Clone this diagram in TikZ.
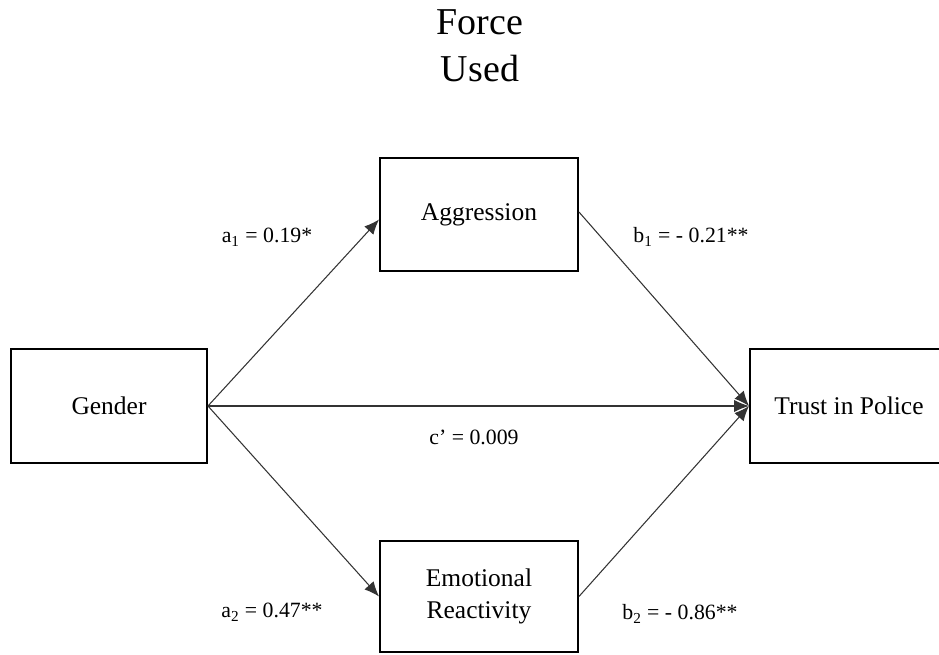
\documentclass[tikz,border=0pt]{standalone}
\usepackage{fontspec}
\setmainfont{Liberation Serif}
\usepackage{tikz}
\usetikzlibrary{arrows.meta}
\tikzset{>={Latex[length=8.5pt,width=7pt]}}
\tikzset{
	varbox/.style = {draw, line width = 1.1pt, minimum width = 3.96cm, minimum height = 2.26cm, align = center, font = \fontsize{14.5}{18.2}\selectfont},
	coef/.style = {anchor = base, font = \fontsize{12.4}{15}\selectfont},
	path/.style = {->, line width = 0.6pt, draw = black!80}
}

\begin{document}
\begin{tikzpicture}
\useasboundingbox (0, 0) rectangle (18.78, 13.1);

\node[align = center, font = \fontsize{21.6}{26.7}\selectfont] (title) at (9.6, 12.18) {Force\\Used};

\node[varbox, minimum width = 3.92cm, minimum height = 2.28cm] (gender) at (2.18, 4.98) {Gender};
\node[varbox, minimum height = 2.28cm] (trust) at (16.98, 4.98) {Trust in Police};
\node[varbox] (aggression) at (9.58, 8.81) {Aggression};
\node[varbox, minimum height = 2.22cm] (emotion) at (9.58, 1.17) {Emotional\\Reactivity};

\draw[path] (gender.east) -- ([yshift = -0.1cm]aggression.west);
\draw[path] (gender.east) -- (emotion.west);
\draw[path] (gender.east) -- (trust.west);
\draw[path] ([yshift = 0.05cm]aggression.east) -- (trust.west);
\draw[path] (emotion.east) -- (trust.west);

\node[coef] (a1) at (5.34, 8.24) {a\textsubscript{1} = 0.19*};
\node[coef] (b1) at (13.82, 8.24) {b\textsubscript{1} = - 0.21**};
\node[coef] (c) at (9.48, 4.2) {c' = 0.009};
\node[coef] (a2) at (5.44, 0.74) {a\textsubscript{2} = 0.47**};
\node[coef] (b2) at (13.6, 0.70) {b\textsubscript{2} = - 0.86**};

\end{tikzpicture}
\end{document}
